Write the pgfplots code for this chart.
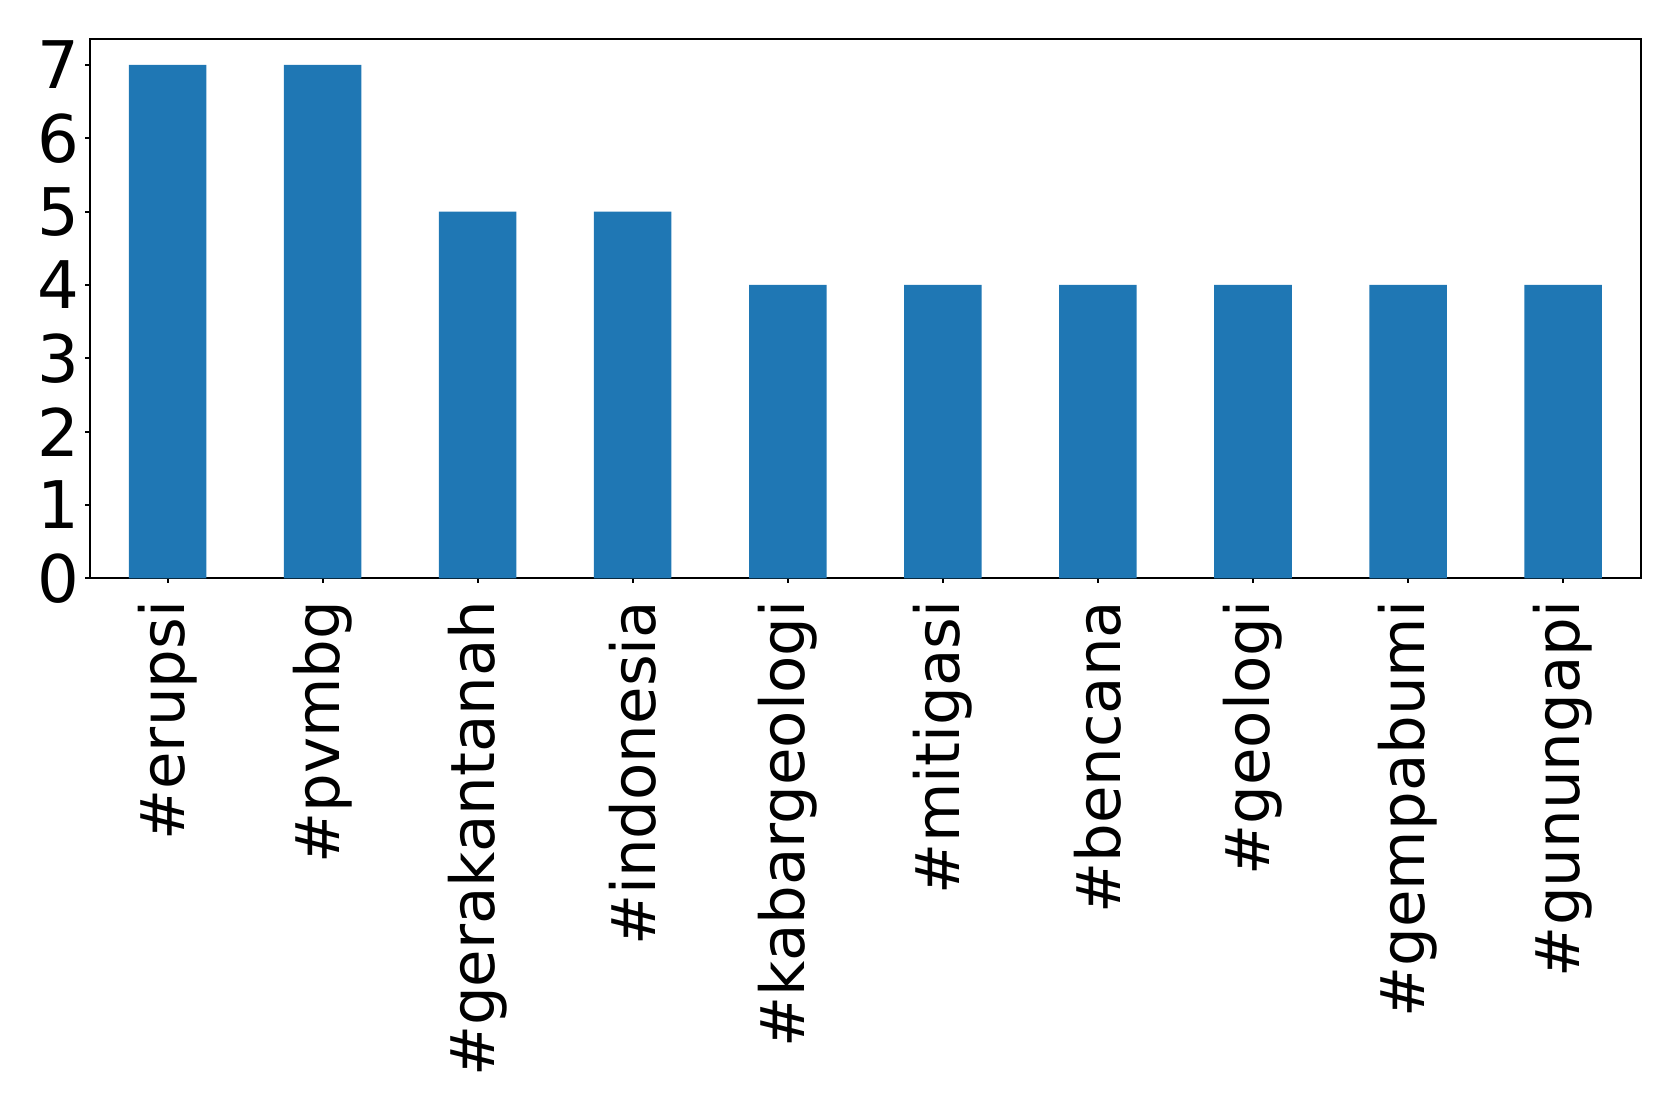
\documentclass[border=0pt]{standalone}
\usepackage{fontspec}
\setmainfont{DejaVu Sans}
\usepackage{pgfplots}
\pgfplotsset{compat=1.18}
\definecolor{mplblue}{HTML}{1F77B4}
\begin{document}
\begin{tikzpicture}
\begin{axis}[
  at={(27pt,161pt)}, anchor=south west,
  scale only axis, width=465.2pt, height=161.7pt,
  xmin=-0.5, xmax=9.5, ymin=0, ymax=7.35,
  axis line style={line width=0.6pt},
  xtick={0,...,9},
  xticklabels={\#erupsi,\#pvmbg,\#gerakantanah,\#indonesia,\#kabargeologi,\#mitigasi,\#bencana,\#geologi,\#gempabumi,\#gunungapi},
  ytick={0,...,7},
  tick align=outside, xtick pos=bottom, ytick pos=left,
  major tick length=1.35pt,
  tick style={black, line width=0.6pt},
  /pgf/number format/assume math mode=true,
  xticklabel style={font=\fontsize{18.3}{22}\selectfont},
  yticklabel style={font=\fontsize{19.7}{23}\selectfont, anchor=east, inner sep=0pt, xshift=-1.8pt},
  xticklabel style={yshift=-5.2pt, rotate=90, anchor=east, inner sep=0pt},
]
\addplot[ybar, bar width=0.5, fill=mplblue, draw=none, bar shift=0pt] coordinates {(0,7)(1,7)(2,5)(3,5)(4,4)(5,4)(6,4)(7,4)(8,4)(9,4)};
\end{axis}
\pgfresetboundingbox
\path[use as bounding box] (0,0) rectangle (503.7pt,334.5pt);
\end{tikzpicture}
\end{document}
